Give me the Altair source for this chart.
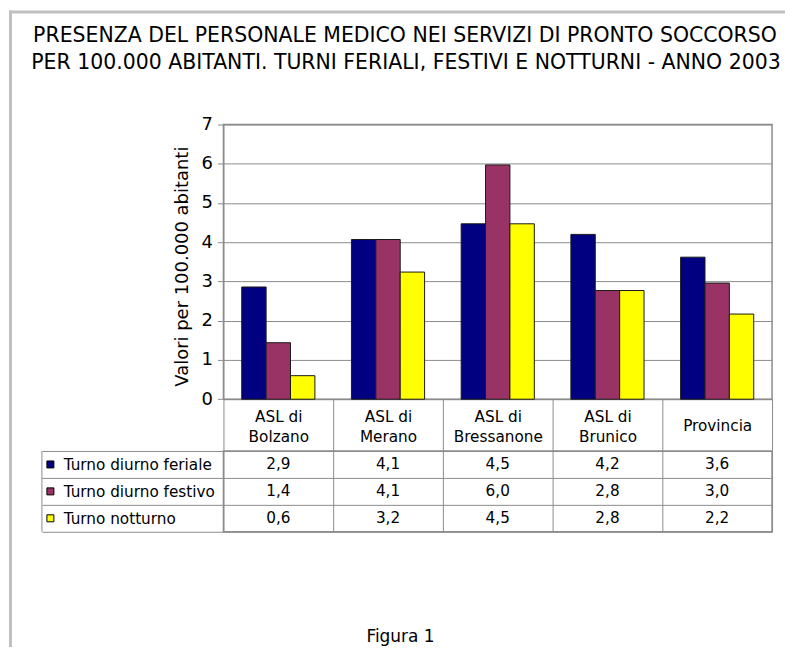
import altair as alt
import pandas as pd

# ---- data ----
categories = ["ASL di Bolzano", "ASL di Merano", "ASL di Bressanone", "ASL di Brunico", "Provincia"]
series = ["Turno diurno feriale", "Turno diurno festivo", "Turno notturno"]
feriale = [2.86, 4.07, 4.47, 4.20, 3.62]
festivo = [1.44, 4.07, 5.97, 2.77, 2.96]
notturno = [0.60, 3.24, 4.47, 2.77, 2.17]
colors = ["#000080", "#993366", "#ffff00"]
title_lines = [
    "PRESENZA DEL PERSONALE MEDICO NEI SERVIZI DI PRONTO SOCCORSO",
    "PER 100.000 ABITANTI. TURNI FERIALI, FESTIVI E NOTTURNI - ANNO 2003",
]
y_title = "Valori per 100.000 abitanti"
y_ticks = [0, 1, 2, 3, 4, 5, 6, 7]
caption = "Figura 1"

rows = []
for s, vals in zip(series, [feriale, festivo, notturno]):
    for c, v in zip(categories, vals):
        rows.append({"categoria": c, "serie": s, "valore": v})
df = pd.DataFrame(rows)
one = pd.DataFrame({"k": [0]})

FONT = "DejaVu Sans"
GRAY = "#8c8c8c"
FRAME = "#c0c0c0"
W, H = 550, 275.4
TH = 81
HEADER = 51.3
TFS = 15.3

color_enc = alt.Color("serie:N", sort=series,
                      scale=alt.Scale(domain=series, range=colors), legend=None)

x_top = alt.X(
    "categoria:N", sort=categories,
    scale=alt.Scale(paddingInner=0, paddingOuter=0),
    axis=alt.Axis(
        title=None, orient="bottom", labelAngle=0,
        labelExpr="split(replace(datum.label, 'ASL di ', 'ASL di|'), '|')",
        labelFontSize=TFS, labelLineHeight=20, labelBaseline="middle",
        labelPadding={"condition": {"test": "datum.value == 'Provincia'", "value": -25},
                      "value": -34},
        tickBand="extent", tickSize=HEADER,
        tickColor=GRAY, domainColor=GRAY, grid=False,
    ),
)

bars = alt.Chart(df).mark_bar(stroke="#1a1a1a", strokeWidth=1).encode(
    x=x_top,
    xOffset=alt.XOffset("serie:N", sort=series,
                        scale=alt.Scale(paddingOuter=0.75, paddingInner=0)),
    y=alt.Y(
        "valore:Q",
        scale=alt.Scale(domain=[0, 7], nice=False),
        axis=alt.Axis(
            values=y_ticks, title=y_title, titleFontSize=18,
            titleFontWeight="normal", titleX=-41, titleY=142,
            titleBaseline="middle", labelFontSize=18, tickSize=6,
            tickColor=GRAY, domainColor=GRAY, gridColor=GRAY,
            labelPadding=5,
        ),
    ),
    color=color_enc,
)

# grey window frame (left and top edges)
frame_v = alt.Chart(one).mark_rect(color=FRAME).encode(
    x=alt.value(-215), x2=alt.value(-212), y=alt.value(-114.3), y2=alt.value(523.7))
frame_h = alt.Chart(one).mark_rect(color=FRAME).encode(
    x=alt.value(-215), x2=alt.value(563), y=alt.value(-114.3), y2=alt.value(-111.3))

t1 = alt.Chart(one).mark_text(text=title_lines[0], font=FONT, fontSize=20.5,
                              baseline="alphabetic", align="center",
                              color="black").encode(
    x=alt.value(182), y=alt.value(-83.0))
t2 = alt.Chart(one).mark_text(text=title_lines[1], font=FONT, fontSize=20.5,
                              baseline="alphabetic", align="center",
                              color="black").encode(
    x=alt.value(183), y=alt.value(-55.6))

top = alt.layer(bars, frame_v, frame_h, t1, t2).properties(width=W, height=H)

# ---- data table ----
x_tab = alt.X(
    "categoria:N", sort=categories,
    scale=alt.Scale(paddingInner=0, paddingOuter=0),
    axis=alt.Axis(
        title=caption, labels=False, ticks=False, domain=False, grid=True,
        gridColor=GRAY, tickBand="extent", titleFontSize=17,
        titleFontWeight="normal", titleX=177, titleY=110,
        titleBaseline="alphabetic", titleAlign="center",
    ),
)
y_tab = alt.Y(
    "serie:N", sort=series,
    scale=alt.Scale(paddingInner=0, paddingOuter=0),
    axis=alt.Axis(
        title=None, tickBand="extent", tickSize=182, tickColor=GRAY,
        grid=True, gridColor=GRAY, domain=False, labelAlign="left",
        labelPadding=-21.3, labelFontSize=TFS, labelBaseline="middle",
    ),
)

cells = alt.Chart(df).mark_text(font=FONT, fontSize=TFS, color="black").encode(
    x=x_tab, y=y_tab, text="etichetta:N"
).transform_calculate(
    etichetta="replace(format(datum.valore, '.1f'), '.', ',')"
)

keys = alt.Chart(pd.DataFrame({"serie": series})).mark_point(
    shape="square", filled=True, size=49, stroke="black", strokeWidth=1,
    opacity=1,
).encode(x=alt.value(-173.5), y=alt.Y("serie:N", sort=series), color=color_enc)

left_border = alt.Chart(one).mark_rule(color=GRAY, strokeWidth=1).encode(
    x=alt.value(-182), y=alt.value(0), y2=alt.value(TH))

table = alt.layer(cells, keys, left_border).properties(width=W, height=TH)

chart = alt.vconcat(top, table, spacing=HEADER, bounds="flush").properties(
    padding=0
).configure(font=FONT).configure_view(
    stroke=GRAY, strokeWidth=1.5
).configure_axis(
    labelFont=FONT, titleFont=FONT, labelColor="black", titleColor="black"
)

chart.save("out.html", embed_options={"renderer": "svg", "actions": False})
